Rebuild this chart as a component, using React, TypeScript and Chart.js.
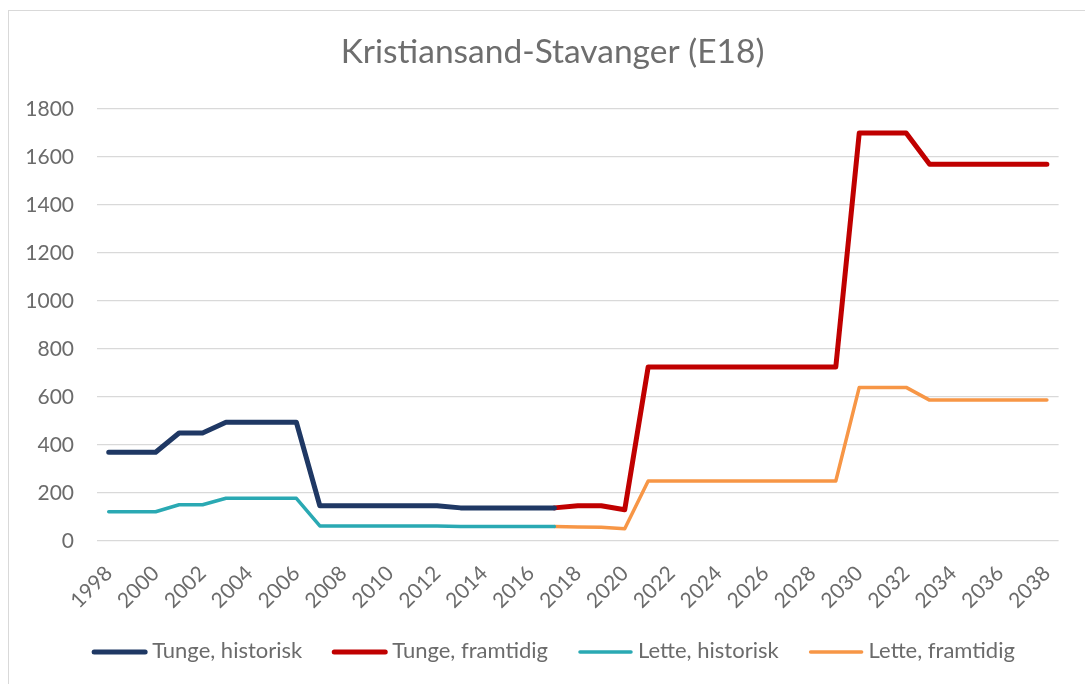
import React, { useEffect, useRef } from 'react';
import { Chart, registerables } from 'chart.js';

Chart.register(...registerables);

const years = [
  '1998', '1999', '2000', '2001', '2002', '2003', '2004', '2005', '2006', '2007',
  '2008', '2009', '2010', '2011', '2012', '2013', '2014', '2015', '2016', '2017',
  '2018', '2019', '2020', '2021', '2022', '2023', '2024', '2025', '2026', '2027',
  '2028', '2029', '2030', '2031', '2032', '2033', '2034', '2035', '2036', '2037', '2038',
];

const tungeHistorisk = [
  370, 370, 370, 450, 450, 495, 495, 495, 495, 147,
  147, 147, 147, 147, 147, 138, 138, 138, 138, 138,
  null, null, null, null, null, null, null, null, null, null,
  null, null, null, null, null, null, null, null, null, null, null,
];

const tungeFramtidig = [
  null, null, null, null, null, null, null, null, null, null,
  null, null, null, null, null, null, null, null, null, 138,
  147, 147, 130, 725, 725, 725, 725, 725, 725, 725,
  725, 725, 1700, 1700, 1700, 1570, 1570, 1570, 1570, 1570, 1570,
];

const letteHistorisk = [
  122, 122, 122, 151, 151, 178, 178, 178, 178, 63,
  63, 63, 63, 63, 63, 60, 60, 60, 60, 60,
  null, null, null, null, null, null, null, null, null, null,
  null, null, null, null, null, null, null, null, null, null, null,
];

const letteFramtidig = [
  null, null, null, null, null, null, null, null, null, null,
  null, null, null, null, null, null, null, null, null, 60,
  58, 57, 51, 250, 250, 250, 250, 250, 250, 250,
  250, 250, 640, 640, 640, 587, 587, 587, 587, 587, 587,
];

const seriesLabels = ['Tunge, historisk', 'Tunge, framtidig', 'Lette, historisk', 'Lette, framtidig'];
const seriesColors = ['#1f3864', '#c00000', '#2aa9b3', '#f79646'];
const yTicks = { min: 0, max: 1800, step: 200 };
const titleText = 'Kristiansand-Stavanger (E18)';

const FONT = 'Lato, "Open Sans", sans-serif';
const TEXT_COLOR = '#6b6b6b';

const titleAndLegend = {
  id: 'titleAndLegend',
  afterDraw(chart: any) {
    const ctx = chart.ctx as CanvasRenderingContext2D;
    const ds = chart.data.datasets;
    ctx.save();
    // title
    ctx.font = `33.5px ${FONT}`;
    ctx.fillStyle = '#6e6e6e';
    ctx.textAlign = 'center';
    ctx.textBaseline = 'middle';
    ctx.fillText(titleText, 543.5, 41);
    // legend
    ctx.font = `22px ${FONT}`;
    const lineLen = 55;
    const gap = 5;
    const sep = 30;
    const widths = ds.map((d: any) => ctx.measureText(d.label).width);
    const total = widths.reduce((a: number, w: number) => a + lineLen + gap + w, 0) + sep * (ds.length - 1);
    let x = 544.5 - total / 2;
    const yLine = 641;
    const yText = 647;
    ds.forEach((d: any, i: number) => {
      ctx.strokeStyle = d.borderColor;
      ctx.lineWidth = d.borderWidth;
      ctx.lineCap = 'round';
      ctx.beginPath();
      ctx.moveTo(x + 2, yLine);
      ctx.lineTo(x + lineLen - 2, yLine);
      ctx.stroke();
      ctx.fillStyle = TEXT_COLOR;
      ctx.textBaseline = 'alphabetic';
      ctx.textAlign = 'left';
      ctx.fillText(d.label, x + lineLen + gap, yText);
      x += lineLen + gap + widths[i] + sep;
    });
    ctx.restore();
  },
};

export default function App() {
  const ref = useRef<HTMLCanvasElement | null>(null);

  useEffect(() => {
    if (!ref.current) return;
    const data = [tungeHistorisk, tungeFramtidig, letteHistorisk, letteFramtidig];
    const widths = [5, 5, 3.5, 3.5];
    const chart = new Chart(ref.current, {
      type: 'line',
      data: {
        labels: years,
        datasets: data.map((d, i) => ({
          label: seriesLabels[i],
          data: d,
          borderColor: seriesColors[i],
          backgroundColor: seriesColors[i],
          borderWidth: widths[i],
          pointRadius: 0,
          borderJoinStyle: 'round',
          borderCapStyle: 'round',
          tension: 0,
          spanGaps: false,
        })),
      },
      options: {
        responsive: false,
        animation: false,
        layout: { padding: { top: 98, right: 25, bottom: 0, left: 0 } },
        plugins: {
          legend: { display: false },
          tooltip: { enabled: false },
          title: { display: false },
        },
        scales: {
          x: {
            offset: true,
            grid: { display: false, drawTicks: false },
            border: { display: false },
            ticks: {
              autoSkip: false,
              maxRotation: 45,
              minRotation: 45,
              padding: 20,
              color: TEXT_COLOR,
              font: { family: FONT, size: 21 },
              callback: (_v: any, i: number) => (i % 2 === 0 ? years[i] : ''),
            },
            afterFit: (s: any) => { s.height = 143; },
          },
          y: {
            min: yTicks.min,
            max: yTicks.max,
            grid: { color: '#d9d9d9', lineWidth: 1.3, drawTicks: false },
            border: { display: false },
            ticks: {
              stepSize: yTicks.step,
              padding: 23,
              color: TEXT_COLOR,
              font: { family: FONT, size: 21 },
              callback: (v: any) => String(v),
            },
            afterFit: (s: any) => { s.width = 88; },
          },
        },
      },
      plugins: [titleAndLegend],
    });
    return () => chart.destroy();
  }, []);

  return (
    <div
      style={{
        position: 'fixed',
        left: 8,
        top: 10,
        width: 1077,
        height: 674,
        borderLeft: '1px solid #d9d9d9',
        borderTop: '1px solid #d9d9d9',
        background: '#fff',
      }}
    >
      <canvas ref={ref} width={1076} height={673} style={{ display: 'block' }} />
    </div>
  );
}
